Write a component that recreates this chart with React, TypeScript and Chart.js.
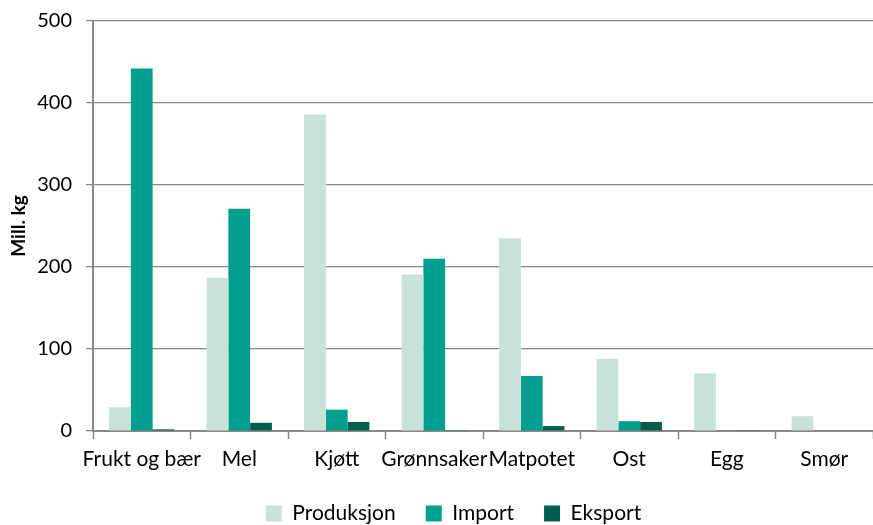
import { useEffect, useRef } from 'react';
import { Chart, registerables } from 'chart.js';

Chart.register(...registerables);

const categories = ['Frukt og bær', 'Mel', 'Kjøtt', 'Grønnsaker', 'Matpotet', 'Ost', 'Egg', 'Smør'];
const produksjon = [29, 187, 386, 191, 235, 88, 70, 18];
const importValues = [442, 271, 26, 210, 67, 12, 0, 0];
const eksport = [2, 10, 11, 1, 6, 11, 1, 0];

const FONT = 'Lato, "Open Sans", sans-serif';
const GRID = '#888888';

export default function App() {
  const chartRef = useRef<HTMLCanvasElement | null>(null);
  const chartInstance = useRef<Chart | null>(null);

  useEffect(() => {
    if (!chartRef.current) return;
    if (chartInstance.current) chartInstance.current.destroy();

    const ctx = chartRef.current.getContext('2d');
    if (!ctx) return;

    chartInstance.current = new Chart(ctx, {
      type: 'bar',
      data: {
        labels: categories,
        datasets: [
          { label: 'Produksjon', data: produksjon, backgroundColor: '#c7e3d8' },
          { label: 'Import', data: importValues, backgroundColor: '#009e8f' },
          { label: 'Eksport', data: eksport, backgroundColor: '#005e50' },
        ],
      },
      options: {
        responsive: true,
        maintainAspectRatio: false,
        animation: false,
        // left padding pushes the legend right; negative bottom lets it sit lower
        layout: { padding: { top: 21, right: -4, left: 30, bottom: -9 } },
        datasets: {
          bar: { categoryPercentage: 0.67, barPercentage: 1 },
        },
        plugins: {
          legend: {
            position: 'bottom',
            labels: {
              color: '#000',
              font: { family: FONT, size: 21 },
              boxWidth: 16,
              boxHeight: 16,
              padding: 30,
            },
          },
          tooltip: { enabled: false },
        },
        scales: {
          x: {
            afterFit: (scale: any) => {
              scale.height = 42;
            },
            grid: {
              display: true,
              drawOnChartArea: false,
              offset: true,
              color: GRID,
              tickLength: 8,
              tickWidth: 1.5,
            },
            border: { color: GRID, width: 2 },
            ticks: {
              color: '#000',
              font: { family: FONT, size: 21 },
              maxRotation: 0,
              autoSkip: false,
              padding: 8,
            },
          },
          y: {
            min: 0,
            max: 500,
            afterFit: (scale: any) => {
              scale.width = 63;
              scale.paddingTop = 0;
              scale.paddingBottom = 0;
            },
            ticks: {
              stepSize: 100,
              color: '#000',
              font: { family: FONT, size: 20 },
              padding: 14,
            },
            grid: { color: GRID, lineWidth: 1.2, tickLength: 7 },
            border: { color: GRID, width: 2 },
            title: {
              display: true,
              text: 'Mill. kg',
              color: '#000',
              font: { family: FONT, size: 19, weight: 'bold' },
              padding: { top: -23, bottom: 0 },
            },
          },
        },
      },
    });

    return () => {
      if (chartInstance.current) {
        chartInstance.current.destroy();
        chartInstance.current = null;
      }
    };
  }, []);

  return (
    <div style={{ position: 'absolute', left: 0, top: 0, width: 873, height: 525, background: '#fff' }}>
      <canvas ref={chartRef} />
    </div>
  );
}
